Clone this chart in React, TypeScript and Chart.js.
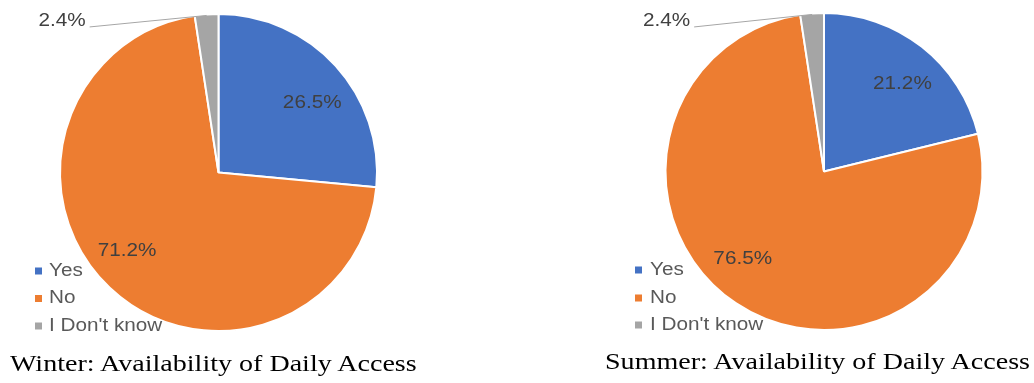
import React, { useEffect, useRef } from 'react';
import { Chart, registerables } from 'chart.js';

Chart.register(...registerables);

// ---------- data ----------
const categories = ['Yes', 'No', "I Don't know"];
const winterValues = [26.5, 71.2, 2.4];
const summerValues = [21.2, 76.5, 2.4];
const sliceColors = ['#4472C4', '#ED7D31', '#A5A5A5'];
const winterTitle = 'Winter: Availability of Daily Access';
const summerTitle = 'Summer: Availability of Daily Access';

// ---------- styling ----------
const CW = 517;
const CH = 383;
const TEXT_SX = 1.15;
const FONT = '18px "Liberation Sans", Arial, sans-serif';
const LABEL_COLOR = '#404040';
const LEGEND_COLOR = '#595959';

type PanelCfg = {
  left: number;
  padding: { left: number; right: number; top: number; bottom: number };
  legendBoxX: number;
  legendTextX: number;
  legendY: number[];
  labelRadius: number;
  nudges: [number, number][];
  outerIndex: number;
  outerOffset: [number, number];
};

const winterCfg: PanelCfg = {
  left: 0,
  padding: { left: 0, right: 80, top: 0, bottom: 38 },
  legendBoxX: 35,
  legendTextX: 49,
  legendY: [271, 298.5, 326],
  labelRadius: 0.745,
  nudges: [[7, 10], [-11, -7], [0, 0]],
  outerIndex: 2,
  outerOffset: [-121, 6],
};

const summerCfg: PanelCfg = {
  left: 517,
  padding: { left: 97, right: 0, top: 0, bottom: 40 },
  legendBoxX: 118,
  legendTextX: 133,
  legendY: [270, 298, 325],
  labelRadius: 0.745,
  nudges: [[6, 5], [-16, -10], [0, 0]],
  outerIndex: 2,
  outerOffset: [-122, 7],
};

function drawText(ctx: CanvasRenderingContext2D, text: string, x: number, y: number, align: CanvasTextAlign) {
  ctx.save();
  ctx.translate(x, y);
  ctx.scale(TEXT_SX, 1);
  ctx.textAlign = align;
  ctx.textBaseline = 'middle';
  ctx.fillText(text, 0, 0);
  ctx.restore();
}

const pieDecor = {
  id: 'pieDecor',
  afterDatasetsDraw(chart: any, _args: any, opts: any) {
    const cfg: PanelCfg = opts.cfg;
    const ctx: CanvasRenderingContext2D = chart.ctx;
    const meta = chart.getDatasetMeta(0);
    const values: number[] = chart.data.datasets[0].data;
    ctx.save();
    ctx.font = FONT;
    meta.data.forEach((arc: any, i: number) => {
      const p = arc.getProps(['x', 'y', 'startAngle', 'endAngle', 'outerRadius'], true);
      const mid = (p.startAngle + p.endAngle) / 2;
      const r = p.outerRadius - 1;
      const label = values[i].toFixed(1) + '%';
      ctx.fillStyle = LABEL_COLOR;
      if (i === cfg.outerIndex) {
        const ex = p.x + Math.cos(mid) * r;
        const ey = p.y + Math.sin(mid) * r;
        const lx = ex + cfg.outerOffset[0];
        const ly = ey + cfg.outerOffset[1];
        ctx.strokeStyle = '#a6a6a6';
        ctx.lineWidth = 1;
        ctx.beginPath();
        ctx.moveTo(lx + 4, ly + 5.5);
        ctx.lineTo(ex, ey);
        ctx.stroke();
        drawText(ctx, label, lx, ly, 'right');
      } else {
        const nx = p.x + Math.cos(mid) * r * cfg.labelRadius + cfg.nudges[i][0];
        const ny = p.y + Math.sin(mid) * r * cfg.labelRadius + cfg.nudges[i][1];
        drawText(ctx, label, nx, ny, 'center');
      }
    });
    // legend
    const labels: string[] = chart.data.labels;
    const colors: string[] = chart.data.datasets[0].backgroundColor;
    labels.forEach((lab, i) => {
      const y = cfg.legendY[i];
      ctx.fillStyle = colors[i];
      ctx.fillRect(cfg.legendBoxX, y - 3.5, 7, 7);
      ctx.fillStyle = LEGEND_COLOR;
      drawText(ctx, lab, cfg.legendTextX, y, 'left');
    });
    ctx.restore();
  },
};

function PiePanel({ values, cfg }: { values: number[]; cfg: PanelCfg }) {
  const ref = useRef<HTMLCanvasElement | null>(null);
  useEffect(() => {
    if (!ref.current) return;
    const chart = new Chart(ref.current, {
      type: 'pie',
      data: {
        labels: categories,
        datasets: [
          {
            data: values,
            backgroundColor: sliceColors,
            borderColor: '#ffffff',
            borderWidth: 2,
          },
        ],
      },
      options: {
        responsive: false,
        animation: false,
        events: [],
        radius: 158.5,
        layout: { padding: cfg.padding },
        plugins: {
          legend: { display: false },
          tooltip: { enabled: false },
          title: { display: false },
          pieDecor: { cfg },
        } as any,
      } as any,
      plugins: [pieDecor as any],
    });
    return () => chart.destroy();
  }, [values, cfg]);
  return (
    <canvas
      ref={ref}
      width={CW}
      height={CH}
      style={{ position: 'absolute', left: cfg.left, top: 0, width: CW, height: CH, display: 'block' }}
    />
  );
}

const titleStyle: React.CSSProperties = {
  position: 'absolute',
  fontFamily: '"Liberation Serif", "Times New Roman", serif',
  fontSize: '23px',
  lineHeight: '26px',
  color: '#000',
  whiteSpace: 'nowrap',
  transformOrigin: 'left center',
  transform: 'scaleX(1.22)',
};

export default function App() {
  return (
    <div style={{ position: 'absolute', left: 0, top: 0, width: 1034, height: 383, background: '#fff', overflow: 'hidden' }}>
      <PiePanel values={winterValues} cfg={winterCfg} />
      <PiePanel values={summerValues} cfg={summerCfg} />
      <div style={{ ...titleStyle, left: 10, top: 351 }}>{winterTitle}</div>
      <div style={{ ...titleStyle, left: 605, top: 349 }}>{summerTitle}</div>
    </div>
  );
}
